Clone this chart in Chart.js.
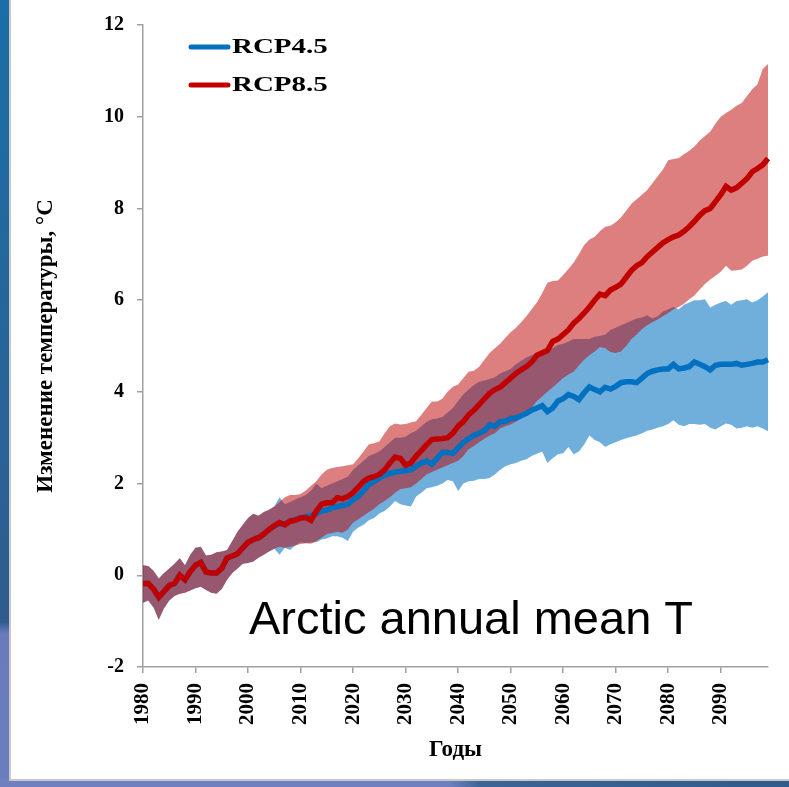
<!DOCTYPE html>
<html>
<head>
<meta charset="utf-8">
<script src="https://cdn.jsdelivr.net/npm/chart.js@4.4.1/dist/chart.umd.min.js"></script>
<style>
  html, body { margin: 0; padding: 0; }
  body { width: 789px; height: 787px; position: relative; overflow: hidden;
         background: linear-gradient(180deg, #1b6ea7 0%, #2a6296 60%, #2f5b8c 79%, #6a7bbb 80.5%, #6c7dbd 100%); }
  #strip { position: absolute; left: 0; top: 779px; width: 789px; height: 8px;
           background: linear-gradient(90deg, #6f80c0 0%, #6f80c0 57%, #3c6495 61%, #2f5c8d 100%); }
  #panel { position: absolute; left: 9px; top: 0; width: 780px; height: 781px; background: #fff;
           border-left: 2px solid #c8c8c8; border-bottom: 2px solid #c8c8c8; box-sizing: border-box; }
  canvas { position: absolute; left: 0; top: 0; }
</style>
</head>
<body>
<div id="strip"></div>
<div id="panel"></div>
<canvas id="c" width="789" height="787"></canvas>
<script>
// ---- categories ----
const firstYear = 1980, lastYear = 2099;
const years = [];
for (let y = firstYear; y <= lastYear; y++) years.push(y);
const xTickYears = [1980, 1990, 2000, 2010, 2020, 2030, 2040, 2050, 2060, 2070, 2080, 2090];
const yTickValues = [-2, 0, 2, 4, 6, 8, 10, 12];

// ---- historical period 1980-2005 (shared by both scenarios) ----
const histMean = [-0.18, -0.18, -0.3, -0.48, -0.35, -0.22, -0.18, 0.0, -0.1, 0.08,
  0.22, 0.28, 0.07, 0.05, 0.05, 0.15, 0.38, 0.42, 0.47, 0.6,
  0.72, 0.78, 0.82, 0.9, 1.0, 1.08];
const histUpper = [0.22, 0.2, 0.1, -0.07, 0.05, 0.15, 0.25, 0.37, 0.22, 0.45,
  0.6, 0.62, 0.43, 0.45, 0.5, 0.52, 0.55, 0.75, 0.95, 1.1,
  1.25, 1.34, 1.3, 1.38, 1.43, 1.5];
const histLower = [-0.6, -0.55, -0.7, -0.97, -0.72, -0.55, -0.45, -0.4, -0.38, -0.33,
  -0.28, -0.25, -0.32, -0.38, -0.4, -0.3, -0.1, 0.05, 0.15, 0.25,
  0.27, 0.3, 0.38, 0.45, 0.52, 0.58];

// ---- RCP4.5, 2006-2099 ----
const rcp45Mean = [1.12, 1.12, 1.18, 1.22, 1.25, 1.28, 1.3, 1.35, 1.4, 1.42,
  1.47, 1.5, 1.52, 1.55, 1.65, 1.72, 1.85, 1.98, 2.05, 2.12,
  2.18, 2.22, 2.25, 2.27, 2.28, 2.3, 2.38, 2.45, 2.49, 2.42,
  2.55, 2.68, 2.68, 2.66, 2.78, 2.9, 2.98, 3.05, 3.1, 3.15,
  3.28, 3.25, 3.35, 3.36, 3.42, 3.43, 3.48, 3.53, 3.6, 3.65,
  3.7, 3.57, 3.65, 3.8, 3.85, 3.94, 3.9, 3.83, 3.98, 4.11,
  4.05, 4.0, 4.1, 4.06, 4.12, 4.2, 4.22, 4.22, 4.2, 4.3,
  4.4, 4.45, 4.48, 4.5, 4.5, 4.6, 4.5, 4.52, 4.55, 4.65,
  4.6, 4.55, 4.48, 4.58, 4.6, 4.6, 4.6, 4.62, 4.58, 4.6,
  4.62, 4.65, 4.65, 4.7];
const rcp45Upper = [1.7, 1.55, 1.6, 1.65, 1.7, 1.75, 1.85, 2.0, 1.9, 1.95,
  2.0, 2.05, 2.1, 2.15, 2.3, 2.4, 2.5, 2.6, 2.65, 2.7,
  2.8, 2.9, 3.0, 3.0, 3.02, 3.1, 3.15, 3.25, 3.35, 3.4,
  3.42, 3.45, 3.55, 3.65, 3.8, 3.95, 4.05, 4.15, 4.22, 4.25,
  4.28, 4.32, 4.4, 4.45, 4.5, 4.6, 4.68, 4.75, 4.8, 4.85,
  4.88, 4.93, 4.95, 5.02, 5.05, 5.1, 5.15, 5.15, 5.15, 5.15,
  5.2, 5.22, 5.25, 5.35, 5.4, 5.45, 5.5, 5.55, 5.6, 5.62,
  5.67, 5.6, 5.65, 5.75, 5.8, 5.85, 5.8, 5.9, 5.95, 6.0,
  6.0, 6.02, 5.84, 5.9, 5.95, 5.98, 5.9, 5.98, 6.0, 6.02,
  5.95, 6.0, 6.08, 6.17];
const rcp45Lower = [0.45, 0.6, 0.55, 0.65, 0.72, 0.7, 0.72, 0.72, 0.78, 0.8,
  0.85, 0.85, 0.82, 0.75, 0.95, 1.04, 1.1, 1.2, 1.25, 1.35,
  1.4, 1.5, 1.62, 1.55, 1.52, 1.5, 1.72, 1.8, 1.9, 1.92,
  1.95, 2.0, 2.08, 2.05, 1.84, 2.0, 2.05, 2.06, 2.1, 2.1,
  2.12, 2.2, 2.3, 2.38, 2.42, 2.45, 2.5, 2.53, 2.6, 2.65,
  2.7, 2.45, 2.55, 2.64, 2.66, 2.8, 2.64, 2.7, 2.85, 3.05,
  2.95, 2.9, 2.8, 2.86, 2.9, 2.95, 2.99, 3.02, 3.05, 3.1,
  3.15, 3.18, 3.22, 3.25, 3.3, 3.38, 3.28, 3.25, 3.3, 3.3,
  3.28, 3.3, 3.22, 3.18, 3.25, 3.31, 3.28, 3.2, 3.22, 3.25,
  3.22, 3.25, 3.2, 3.14];

// ---- RCP8.5, 2006-2099 ----
const rcp85Mean = [1.15, 1.1, 1.18, 1.2, 1.25, 1.26, 1.2, 1.4, 1.55, 1.58,
  1.58, 1.69, 1.67, 1.72, 1.8, 1.92, 2.05, 2.12, 2.15, 2.2,
  2.3, 2.45, 2.58, 2.55, 2.4, 2.45, 2.6, 2.72, 2.85, 2.96,
  2.97, 2.98, 3.0, 3.1, 3.25, 3.35, 3.5, 3.6, 3.72, 3.85,
  3.97, 4.05, 4.1, 4.2, 4.3, 4.4, 4.48, 4.55, 4.65, 4.8,
  4.85, 4.9, 5.1, 5.15, 5.25, 5.35, 5.5, 5.6, 5.72, 5.85,
  6.0, 6.13, 6.1, 6.22, 6.28, 6.35, 6.5, 6.65, 6.75, 6.82,
  6.95, 7.05, 7.15, 7.25, 7.32, 7.38, 7.42, 7.5, 7.6, 7.72,
  7.85, 7.95, 8.0, 8.15, 8.3, 8.48, 8.4, 8.45, 8.55, 8.65,
  8.8, 8.87, 8.95, 9.09];
const rcp85Upper = [1.6, 1.7, 1.75, 1.75, 1.77, 1.85, 1.95, 2.05, 2.2, 2.3,
  2.34, 2.36, 2.38, 2.4, 2.42, 2.55, 2.7, 2.86, 2.88, 2.92,
  3.1, 3.25, 3.31, 3.29, 3.3, 3.33, 3.36, 3.5, 3.65, 3.79,
  3.79, 3.85, 4.0, 4.11, 4.16, 4.3, 4.44, 4.46, 4.55, 4.7,
  4.85, 4.95, 5.05, 5.18, 5.3, 5.4, 5.52, 5.65, 5.8, 5.95,
  6.15, 6.38, 6.42, 6.43, 6.55, 6.68, 6.82, 7.0, 7.2, 7.32,
  7.38, 7.5, 7.6, 7.62, 7.7, 7.8, 7.95, 8.1, 8.2, 8.3,
  8.4, 8.55, 8.7, 8.85, 9.05, 9.08, 9.1, 9.18, 9.26, 9.35,
  9.48, 9.58, 9.67, 9.85, 10.0, 10.08, 10.15, 10.24, 10.3, 10.45,
  10.6, 10.71, 11.04, 11.15];
const rcp85Lower = [0.62, 0.6, 0.62, 0.65, 0.68, 0.7, 0.69, 0.75, 0.82, 0.9,
  0.92, 0.95, 0.93, 1.0, 1.15, 1.22, 1.3, 1.38, 1.45, 1.55,
  1.62, 1.7, 1.8, 1.88, 1.9, 1.92, 2.0, 2.1, 2.2, 2.25,
  2.3, 2.35, 2.4, 2.45, 2.5, 2.6, 2.75, 2.82, 2.9, 2.98,
  3.05, 3.1, 3.2, 3.25, 3.29, 3.35, 3.42, 3.5, 3.65, 3.8,
  3.9, 4.0, 4.1, 4.2, 4.3, 4.38, 4.44, 4.58, 4.7, 4.8,
  4.88, 4.98, 4.95, 4.87, 4.85, 4.88, 5.0, 5.15, 5.25, 5.37,
  5.45, 5.52, 5.58, 5.65, 5.72, 5.8, 5.85, 5.92, 6.02, 6.1,
  6.23, 6.35, 6.45, 6.53, 6.62, 6.75, 6.64, 6.65, 6.67, 6.75,
  6.86, 6.9, 6.95, 6.97];

const seriesNames = ['RCP4.5', 'RCP8.5'];
const lineColors = ['#0070C0', '#C00000'];
const bandColors = ['rgba(0,112,192,0.56)', 'rgba(190,0,0,0.5)'];

const s45Mean = histMean.concat(rcp45Mean), s45Up = histUpper.concat(rcp45Upper), s45Lo = histLower.concat(rcp45Lower);
const s85Mean = histMean.concat(rcp85Mean), s85Up = histUpper.concat(rcp85Upper), s85Lo = histLower.concat(rcp85Lower);

const serif = '"Liberation Serif", "Times New Roman", serif';
const axisGray = '#A0A0A0';

const overlay = {
  id: 'overlay',
  afterDraw(chart) {
    const ctx = chart.ctx;
    ctx.save();
    // legend
    const rows = [47, 85];
    seriesNames.forEach((name, i) => {
      const y = rows[i];
      ctx.strokeStyle = lineColors[i];
      ctx.lineWidth = 5;
      ctx.lineCap = 'round';
      ctx.beginPath(); ctx.moveTo(191, y); ctx.lineTo(228, y); ctx.stroke();
      ctx.save();
      ctx.translate(232, y + 1);
      ctx.scale(1.38, 1);
      ctx.fillStyle = '#000';
      ctx.font = 'bold 21px ' + serif;
      ctx.textBaseline = 'middle';
      ctx.textAlign = 'left';
      ctx.fillText(name, 0, 0);
      ctx.restore();
    });
    // annotation
    ctx.fillStyle = '#000';
    ctx.font = '47px "Liberation Sans", Arial, sans-serif';
    ctx.textAlign = 'center';
    ctx.textBaseline = 'alphabetic';
    ctx.fillText('Arctic annual mean T', 471, 634);
    ctx.restore();
  }
};

const noLine = { pointRadius: 0, borderWidth: 0, borderColor: 'rgba(0,0,0,0)', tension: 0 };

new Chart(document.getElementById('c'), {
  type: 'line',
  data: {
    labels: years,
    datasets: [
      { label: seriesNames[0], data: s45Mean, borderColor: lineColors[0], borderWidth: 5.5, pointRadius: 0, tension: 0, fill: false, order: 1 },
      { label: seriesNames[1], data: s85Mean, borderColor: lineColors[1], borderWidth: 5.5, pointRadius: 0, tension: 0, fill: false, order: 0 },
      Object.assign({ label: 'lo45', data: s45Lo, fill: false, order: 5 }, noLine),
      Object.assign({ label: 'hi45', data: s45Up, fill: 2, backgroundColor: bandColors[0], order: 4 }, noLine),
      Object.assign({ label: 'lo85', data: s85Lo, fill: false, order: 3 }, noLine),
      Object.assign({ label: 'hi85', data: s85Up, fill: 4, backgroundColor: bandColors[1], order: 2 }, noLine)
    ]
  },
  options: {
    responsive: false,
    animation: false,
    devicePixelRatio: 1,
    layout: { padding: { left: 10, top: 21, right: 21, bottom: 20 } },
    plugins: { legend: { display: false }, tooltip: { enabled: false }, filler: { propagate: false } },
    scales: {
      x: {
        type: 'category',
        offset: false,
        afterBuildTicks(scale) {
          scale.ticks = xTickYears.map(y => ({ value: years.indexOf(y) }));
        },
        afterFit(scale) { scale.height = 100; },
        ticks: {
          autoSkip: false, minRotation: 90, maxRotation: 90, padding: 10, color: '#000',
          font: { family: serif, weight: 'bold', size: 21 }
        },
        grid: { drawOnChartArea: false, drawTicks: true, tickLength: 6, color: axisGray, lineWidth: 1.5 },
        border: { display: true, color: axisGray, width: 1.5 },
        title: { display: true, text: 'Годы', color: '#000', font: { family: serif, weight: 'bold', size: 23 }, padding: { top: 0, bottom: 3 } }
      },
      y: {
        min: -2, max: 12,
        afterBuildTicks(scale) { scale.ticks = yTickValues.map(v => ({ value: v })); },
        afterFit(scale) { scale.width = 133; },
        ticks: { padding: 13, color: '#000', font: { family: serif, weight: 'bold', size: 20 } },
        grid: { drawOnChartArea: false, drawTicks: true, tickLength: 6, color: axisGray, lineWidth: 1.5 },
        border: { display: true, color: axisGray, width: 1.5 },
        title: { display: true, text: 'Изменение температуры, °С', color: '#000', font: { family: serif, weight: 'bold', size: 23 }, padding: { top: 22, bottom: 0 } }
      }
    }
  },
  plugins: [overlay]
});
</script>
</body>
</html>
